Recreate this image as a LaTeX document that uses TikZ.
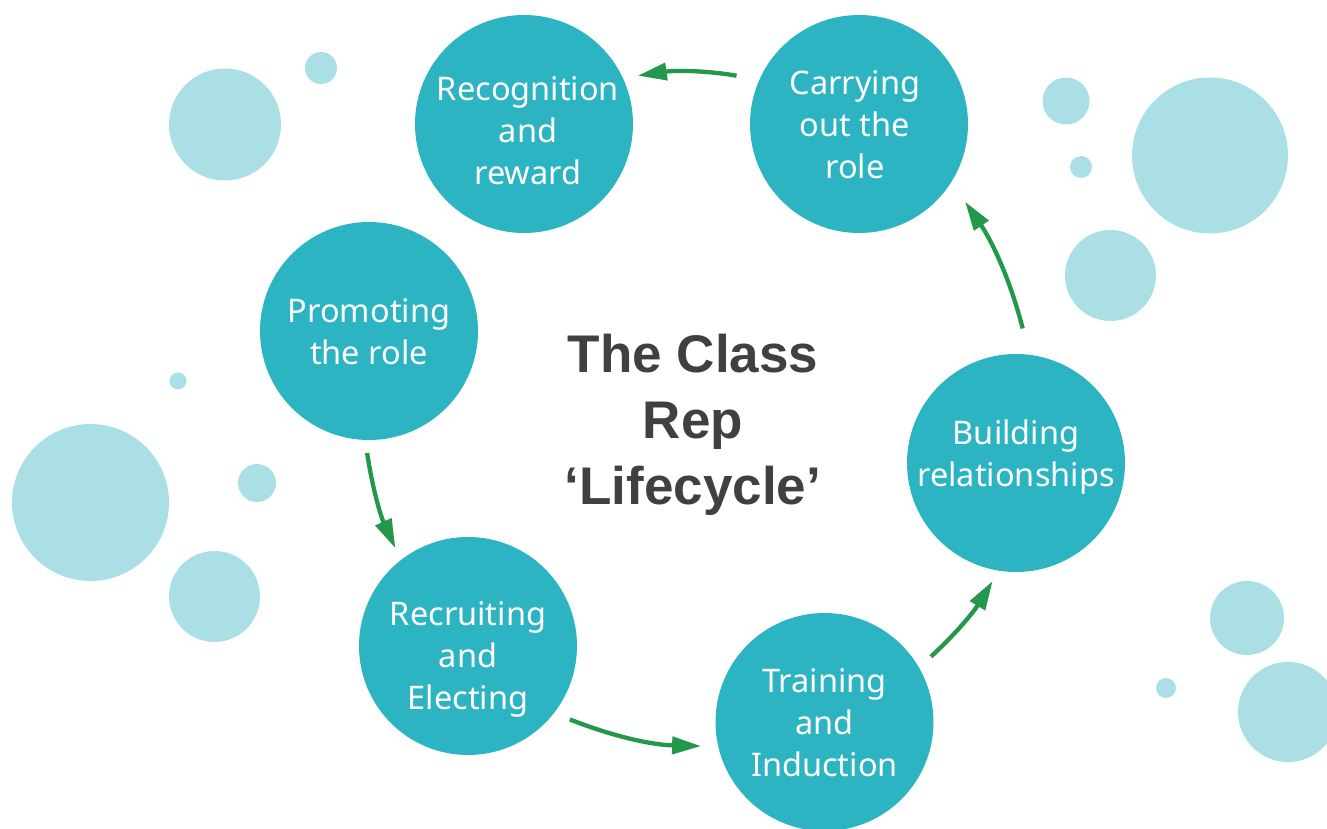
\documentclass[tikz,border=0pt]{standalone}
\usepackage{fontspec}
\setmainfont{Noto Sans}
\newfontfamily\titlefont{Liberation Sans}
\usetikzlibrary{arrows.meta}
\definecolor{stagecol}{HTML}{2CB4C3}
\definecolor{bubblecol}{HTML}{AAE0E5}
\definecolor{arrowcol}{HTML}{23984A}
\definecolor{titlecol}{HTML}{404040}
\begin{document}
\begin{tikzpicture}[x=1pt,y=1pt,
  stage/.style={circle,fill=stagecol,minimum size=218pt,inner sep=0pt},
  stagetext/.style={text=white,align=center,inner sep=0pt,
    font=\fontsize{32.5}{42}\selectfont},
  flowarrow/.style={draw=arrowcol,line width=4.3pt,
    -{Triangle[length=29pt,width=17pt]}}]
\useasboundingbox (0,0) rectangle (1327,828);

% bubbles
\fill[bubblecol] (225,703.5) circle (56);
\fill[bubblecol] (321,760) circle (16);
\fill[bubblecol] (1066,727) circle (23.5);
\fill[bubblecol] (1210,672.5) circle (78);
\fill[bubblecol] (1081,661) circle (11);
\fill[bubblecol] (1110.5,552.5) circle (45.5);
\fill[bubblecol] (178,447) circle (8.5);
\fill[bubblecol] (90.5,325.5) circle (78.5);
\fill[bubblecol] (257,345) circle (19);
\fill[bubblecol] (214.5,231.5) circle (45.5);
\fill[bubblecol] (1247,210) circle (37);
\fill[bubblecol] (1166,140) circle (10);
\fill[bubblecol] (1288,116) circle (50);

% stages
\node[stage] (recog) at (524,704) {};
\node[stage] (carry) at (859,704) {};
\node[stage] (promo) at (369,497) {};
\node[stage] (build) at (1016,365) {};
\node[stage] (recruit) at (468,182) {};
\node[stage] (train) at (824.5,106) {};

\node[stagetext] (recog-text) at (528,697) {Recognition\\and\\reward};
\node[stagetext] (carry-text) at (855,703) {Carrying\\out the\\role};
\node[stagetext] (promo-text) at (369,496) {Promoting\\the role};
\node[stagetext] (build-text) at (1016,371) {Building\\relationships};
\node[stagetext] (recruit-text) at (468,169) {Recruiting\\and\\Electing};
\node[stagetext] (train-text) at (824.5,105) {Training\\and\\Induction};

\node[text=titlecol,align=center,font=\titlefont\bfseries\fontsize{53}{66}\selectfont]
  (title) at (693,403) {The Class\\Rep\\‘Lifecycle’};

% arrows
\draw[flowarrow,shorten <=13pt,shorten >=13pt] (promo.268) to[bend right=8] (recruit.128);
\draw[flowarrow,shorten <=17pt,shorten >=17pt] (recruit.322) to[bend right=10] (train.193);
\draw[flowarrow,shorten <=16pt,shorten >=12pt] (train.30) to[bend right=8] (build.261);
\draw[flowarrow,shorten <=27pt,shorten >=24pt] (build.83) to[bend right=10] (carry.328);
\draw[flowarrow,shorten <=23pt,shorten >=15pt] (carry.156) to[bend right=9] (recog.25);
\end{tikzpicture}
\end{document}
